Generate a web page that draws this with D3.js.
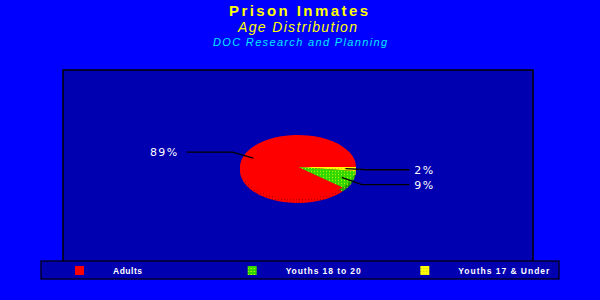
<!DOCTYPE html>
<html><head><meta charset="utf-8">
<script src="https://cdn.jsdelivr.net/npm/d3@7"></script>
<style>html,body{margin:0;padding:0;background:#0000ff;}svg{display:block;}</style>
</head><body>
<svg id="chart" width="600" height="300"></svg>
<script>
const categories = ["Adults", "Youths 18 to 20", "Youths 17 & Under"];
const values = [89, 9, 2];
const valueLabels = ["89%", "9%", "2%"];
const titleText = "Prison Inmates";
const subtitleText = "Age Distribution";
const sourceText = "DOC Research and Planning";

const W = 600, H = 300;
const svg = d3.select("#chart");
svg.append("rect").attr("width", W).attr("height", H).attr("fill", "#0000ff");

const cx = 298, cy = 167, rx = 58, ry = 32, depth = 4;
const sy = ry / rx;
const NARROW = "Liberation Sans Narrow, Liberation Sans, sans-serif";

// fit a text element to a target width by adjusting letter spacing
function fitWidth(sel, target) {
  sel.each(function () {
    const n = this.textContent.length;
    const w = this.getComputedTextLength();
    const ls = (target - w) / Math.max(1, n - 1);
    d3.select(this).attr("letter-spacing", ls);
  });
}

// patterns
const defs = svg.append("defs");
function mkPattern(id, base, dot, scaleY) {
  const p = defs.append("pattern").attr("id", id).attr("patternUnits", "userSpaceOnUse")
    .attr("width", 3).attr("height", 3);
  if (scaleY) p.attr("patternTransform", `scale(1, ${1 / scaleY})`);
  p.append("rect").attr("width", 3).attr("height", 3).attr("fill", base);
  p.append("rect").attr("x", 1).attr("y", 1).attr("width", 1).attr("height", 1).attr("fill", dot);
  return `url(#${id})`;
}
const fillsLegend = ["#ff0000", mkPattern("gL", "#30d800", "#e8ff00"), mkPattern("yL", "#ffff00", "#c8c800")];
const fillsPie = ["#ff0000", mkPattern("gP", "#30d800", "#e8ff00", sy), mkPattern("yP", "#ffff00", "#c8c800", sy)];
const fillsDepth = [mkPattern("rD", "#ff0000", "#900000", sy), mkPattern("gD", "#20a000", "#e8ff00", sy), mkPattern("yD", "#c8c800", "#ffff00", sy)];

// titles
svg.append("text").attr("x", 229).attr("y", 16)
  .attr("font-family", NARROW).attr("font-weight", "bold").attr("font-size", 15)
  .attr("fill", "#ffff00").text(titleText).call(fitWidth, 139);
svg.append("text").attr("x", 238).attr("y", 32)
  .attr("font-family", NARROW).attr("font-style", "italic").attr("font-size", 14)
  .attr("fill", "#ffff00").text(subtitleText).call(fitWidth, 119);
svg.append("text").attr("x", 213).attr("y", 46)
  .attr("font-family", NARROW).attr("font-style", "italic").attr("font-size", 11)
  .attr("fill", "#00e8ff").text(sourceText).call(fitWidth, 174);

// plot area
const plot = { x0: 63, y0: 70, x1: 533, y1: 262 };
svg.append("rect").attr("x", plot.x0).attr("y", plot.y0).attr("width", plot.x1 - plot.x0)
  .attr("height", plot.y1 - plot.y0).attr("fill", "#0000b0").attr("stroke", "#000").attr("stroke-width", 1.5);

// pie
const order = [2, 1, 0]; // from 3 o'clock clockwise: 17&Under, 18-20, Adults
const pie = d3.pie().sort(null).value(i => values[i])
  .startAngle(Math.PI / 2).endAngle(Math.PI / 2 + 2 * Math.PI);
const arcs = pie(order);
const arc = d3.arc().innerRadius(0).outerRadius(rx);

const depthG = svg.append("g").attr("transform", `translate(${cx},${cy + depth}) scale(1,${sy})`);
depthG.selectAll("path").data(arcs).join("path").attr("d", arc).attr("fill", d => fillsDepth[d.data]);
const pieG = svg.append("g").attr("transform", `translate(${cx},${cy}) scale(1,${sy})`);
pieG.selectAll("path").data(arcs).join("path").attr("d", arc).attr("fill", d => fillsPie[d.data]);

// labels with leader lines
const labG = svg.append("g");
arcs.forEach(d => {
  const a = (d.startAngle + d.endAngle) / 2;
  const dx = Math.sin(a), dy = -Math.cos(a);
  const p0 = [cx + dx * rx * 0.82, cy + dy * ry * 0.82];
  const p1 = [cx + dx * rx * 1.2, cy + dy * ry * 1.2 * 1.15];
  const right = dx > 0;
  const p2 = [cx + (right ? 1 : -1) * rx * 1.92, p1[1]];
  labG.append("polyline").attr("points", [p0, p1, p2].map(p => p.join(",")).join(" "))
    .attr("fill", "none").attr("stroke", "#000").attr("stroke-width", 1.3);
  labG.append("text").attr("x", p2[0] + (right ? 5 : -8)).attr("y", p2[1] + 4)
    .attr("text-anchor", right ? "start" : "end")
    .attr("font-family", "DejaVu Sans, sans-serif").attr("font-size", 11).attr("letter-spacing", 1.4)
    .attr("fill", "#ffffff").text(valueLabels[d.data]);
});

// legend
const leg = { x0: 41, y0: 261, x1: 559, y1: 279 };
svg.append("rect").attr("x", leg.x0).attr("y", leg.y0).attr("width", leg.x1 - leg.x0)
  .attr("height", leg.y1 - leg.y0).attr("fill", "#0000b0").attr("stroke", "#000").attr("stroke-width", 1.2);
const slot = d3.scaleBand().domain(d3.range(categories.length)).range([leg.x0, leg.x1]);
const li = svg.append("g").selectAll("g").data(categories).join("g")
  .attr("transform", (d, i) => `translate(${slot(i)},${leg.y0})`);
li.append("rect").attr("x", 34).attr("y", 5).attr("width", 9).attr("height", 9)
  .attr("fill", (d, i) => fillsLegend[i]);
const legendWidths = [29, 75, 91];
li.append("text").attr("x", 72).attr("y", 13)
  .attr("font-family", NARROW).attr("font-weight", "bold").attr("font-size", 8.5)
  .attr("fill", "#ffffff").text(d => d)
  .each(function (d, i) { d3.select(this).call(fitWidth, legendWidths[i]); });
</script>
</body></html>
